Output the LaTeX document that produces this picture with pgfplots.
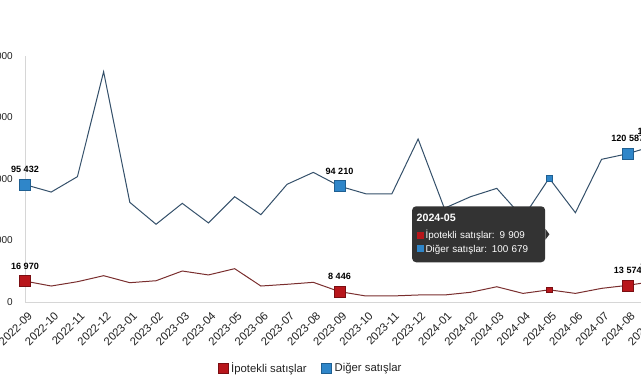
\documentclass[border=0pt]{standalone}
\usepackage{fontspec}
\setmainfont{Liberation Sans}
\usepackage{pgfplots}
\pgfplotsset{compat=1.18}
\usepackage{pgfplotstable}
\definecolor{ipred}{HTML}{B8161B}
\definecolor{ipreddark}{HTML}{7A0E12}
\definecolor{digblue}{HTML}{2F86C9}
\definecolor{digbluedark}{HTML}{1F5F91}
\definecolor{redline}{HTML}{7A2E2E}
\definecolor{blueline}{HTML}{34506A}
\definecolor{tipbg}{HTML}{333333}
\definecolor{axgrey}{HTML}{D6D6D6}
\definecolor{txt}{HTML}{222222}

\pgfplotstableread[col sep=comma]{
x,ipo,dig
0,16970,95432
1,13000,89400
2,16500,101900
3,21400,187200
4,15700,81000
5,17300,63200
6,25200,80200
7,22000,64300
8,27100,85600
9,13000,71000
10,14400,95700
11,16000,105400
12,8446,94210
13,4900,88000
14,4900,88000
15,5700,132500
16,5700,76200
17,7900,85600
18,12400,92400
19,7000,68500
20,9909,100679
21,7000,72600
22,11100,116000
23,13574,120587
24,16800,127000
}\datatable

\pgfplotstableread[col sep=comma]{
x,y,lab
0,95432,95 432
12,94210,94 210
23,120587,120 587
24,127000,127 000
}\digHL

\pgfplotstableread[col sep=comma]{
x,y,lab
0,16970,16 970
12,8446,8 446
23,13574,13 574
24,16800,16 800
}\ipoHL

\begin{document}
\begin{tikzpicture}
\begin{axis}[
  at={(18.75pt,58.5pt)}, anchor=south west,
  scale only axis, width=471.75pt, height=184.5pt,
  xmin=0, xmax=24, ymin=0, ymax=200000,
  clip=false,
  scaled y ticks=false,
  axis x line*=bottom, axis y line*=left,
  axis line style={draw=axgrey, line width=0.6pt},
  major tick length=0pt,
  xtick={0,...,24},
  xticklabels={2022-09,2022-10,2022-11,2022-12,2023-01,2023-02,2023-03,2023-04,2023-05,2023-06,2023-07,2023-08,2023-09,2023-10,2023-11,2023-12,2024-01,2024-02,2024-03,2024-04,2024-05,2024-06,2024-07,2024-08,2024-09},
  xticklabel style={xshift=4pt, yshift=-9pt, rotate=45, anchor=east, inner sep=0pt, font=\fontsize{8.5}{9}\selectfont, text=txt},
  ytick={0,50000,100000,150000,200000},
  yticklabels={0,50 000,100 000,150 000,200 000},
  yticklabel style={xshift=-9pt, anchor=east, inner sep=0pt, font=\fontsize{7.5}{9}\selectfont, text=txt},
  legend columns=2,
  legend style={at={(0.4547,-0.27)}, anchor=center, draw=none, fill=none,
    font=\fontsize{8.5}{10}\selectfont, text=txt,
    /tikz/every even column/.append style={column sep=9pt}},
  legend cell align=left,
]
\addlegendimage{legend image code/.code={\draw[fill=ipred,draw=ipreddark,line width=0.4pt] (0pt,-3.75pt) rectangle (7.5pt,3.75pt);}}
\addlegendentry{İpotekli satışlar}
\addlegendimage{legend image code/.code={\draw[fill=digblue,draw=digbluedark,line width=0.4pt] (0pt,-3.75pt) rectangle (7.5pt,3.75pt);}}
\addlegendentry{Diğer satışlar}

\addplot[blueline, line width=0.75pt, no markers, forget plot] table[x=x, y=dig] {\datatable};
\addplot[redline, line width=0.75pt, no markers, forget plot] table[x=x, y=ipo] {\datatable};

\addplot[only marks, mark=square*, mark size=4.1pt, mark options={fill=digblue, draw=digbluedark, line width=0.4pt},
  forget plot, point meta=explicit symbolic, nodes near coords,
  every node near coord/.append style={anchor=base, yshift=8.8pt, inner sep=0pt, font=\bfseries\fontsize{6.8}{8}\selectfont, text=black}]
  table[x=x, y=y, meta=lab] {\digHL};
\addplot[only marks, mark=square*, mark size=4.1pt, mark options={fill=ipred, draw=ipreddark, line width=0.4pt},
  forget plot, point meta=explicit symbolic, nodes near coords,
  every node near coord/.append style={anchor=base, yshift=8.8pt, inner sep=0pt, font=\bfseries\fontsize{6.8}{8}\selectfont, text=black}]
  table[x=x, y=y, meta=lab] {\ipoHL};

\addplot[only marks, mark=square*, mark size=2pt, mark options={fill=digblue, draw=digbluedark, line width=0.3pt}, forget plot]
  coordinates {(20,100679)};
\addplot[only marks, mark=square*, mark size=2pt, mark options={fill=ipred, draw=ipreddark, line width=0.3pt}, forget plot]
  coordinates {(20,9909)};

\node[fill=tipbg, rounded corners=3pt, text=white, align=left, anchor=north west,
  text width=93pt, inner xsep=3.4pt, inner ysep=5pt, minimum height=42pt,
  font=\fontsize{7.4}{10}\selectfont] (tip) at (axis cs:14.76,78050)
  {{\bfseries\fontsize{8}{10}\selectfont 2024-05}\\[3pt]
   \textcolor{ipred}{\rule{5.5pt}{5.5pt}}\,İpotekli satışlar: 9 909\\
   \textcolor{digblue}{\rule{5.5pt}{5.5pt}}\,Diğer satışlar: 100 679};
\fill[tipbg] ([yshift=4pt]tip.east) -- ([xshift=3pt]tip.east) -- ([yshift=-4pt]tip.east) -- cycle;
\end{axis}
\pgfresetboundingbox
\path[use as bounding box] (0,0) rectangle (480.75pt,285pt);
\end{tikzpicture}
\end{document}
